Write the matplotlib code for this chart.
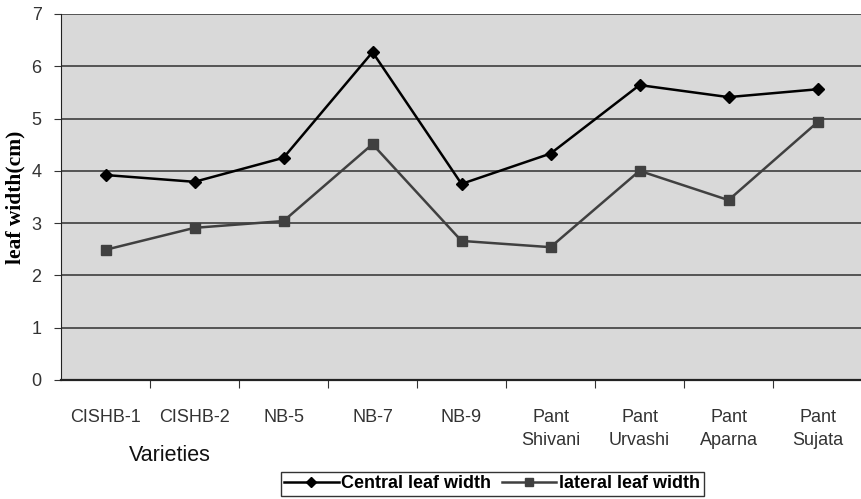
import matplotlib
matplotlib.use("Agg")
import matplotlib.pyplot as plt
import numpy as np

varieties = ["CISHB-1", "CISHB-2", "NB-5", "NB-7", "NB-9",
             "Pant\nShivani", "Pant\nUrvashi", "Pant\nAparna", "Pant\nSujata"]
central_width = [3.92, 3.79, 4.25, 6.27, 3.75, 4.33, 5.64, 5.41, 5.56]
lateral_width = [2.49, 2.91, 3.04, 4.51, 2.66, 2.54, 4.00, 3.44, 4.93]
y_ticks = [0, 1, 2, 3, 4, 5, 6, 7]

plt.rcParams["font.family"] = ["Liberation Sans", "DejaVu Sans"]

fig = plt.figure(figsize=(8.62, 4.99), dpi=100)
ax = fig.add_axes([0.0708, 0.2385, 0.9292, 0.7335])
ax.set_facecolor("#d9d9d9")

x = np.arange(len(varieties))
ax.plot(x, central_width, color="black", lw=1.8, marker="D", ms=6,
        label="Central leaf width", zorder=3)
ax.plot(x, lateral_width, color="#404040", lw=1.8, marker="s", ms=7,
        label="lateral leaf width", zorder=3)

ax.set_xlim(-0.5, len(varieties) - 0.5)
ax.set_ylim(0, 7)
ax.set_yticks(y_ticks)
ax.yaxis.grid(True, color="#303030", lw=1.1)
ax.set_axisbelow(True)

# category labels sit between the tick marks
ax.set_xticks(x + 0.5, minor=False)
ax.set_xticklabels([])
ax.set_xticks(x, minor=True)
ax.set_xticklabels(varieties, minor=True, fontsize=13, color="#333333")
ax.tick_params(axis="x", which="minor", length=0, pad=21)
ax.tick_params(axis="x", which="major", length=6, direction="out", color="#333333")
ax.tick_params(axis="y", length=5, labelsize=13, labelcolor="#333333", color="#333333",
               pad=9)
for lbl in ax.get_xticklabels(minor=True):
    lbl.set_linespacing(1.45)

for side in ["top", "right"]:
    ax.spines[side].set_visible(False)
ax.spines["left"].set_color("#222222")
ax.spines["bottom"].set_color("#222222")
ax.spines["bottom"].set_linewidth(1.6)

ax.set_ylabel("leaf width(cm)", fontsize=15.5, fontweight="bold",
              family=["Liberation Serif", "DejaVu Serif"], labelpad=4)

fig.text(0.197, 0.088, "Varieties", fontsize=15.5, ha="center", va="center",
         color="#111111")

leg = fig.legend(loc="lower center", bbox_to_anchor=(0.571, -0.005), ncol=2,
                 frameon=True, fancybox=False, edgecolor="black",
                 prop={"size": 13, "weight": "bold"}, handlelength=3.0,
                 handletextpad=0.15, columnspacing=0.6, borderpad=0.2,
                 borderaxespad=0.3, markerscale=0.8)
leg.get_frame().set_linewidth(1.0)

fig.savefig("out.png", dpi=100)
